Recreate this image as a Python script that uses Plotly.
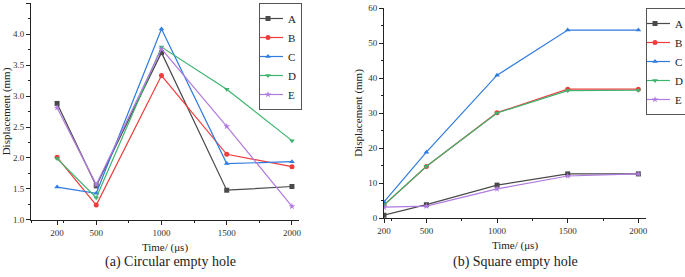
import plotly.graph_objects as go

times = [200, 500, 1000, 1500, 2000]
series_names = ["A", "B", "C", "D", "E"]

# (a) Circular empty hole
circ_A = [2.88, 1.55, 3.70, 1.48, 1.54]
circ_B = [2.01, 1.24, 3.33, 2.06, 1.86]
circ_C = [1.53, 1.43, 4.08, 1.91, 1.94]
circ_D = [1.99, 1.36, 3.79, 3.11, 2.28]
circ_E = [2.81, 1.57, 3.76, 2.51, 1.22]

# (b) Square empty hole
sq_A = [0.8, 3.8, 9.4, 12.6, 12.6]
sq_B = [3.7, 14.7, 30.1, 36.8, 36.8]
sq_C = [4.6, 18.8, 40.8, 53.7, 53.7]
sq_D = [3.7, 14.8, 30.0, 36.4, 36.5]
sq_E = [3.1, 3.4, 8.3, 12.0, 12.6]

colors = ["#4a4a4a", "#f03c3c", "#2f7be0", "#3cb36e", "#b07ae0"]
symbols = ["square", "circle", "triangle-up", "triangle-down", "star"]

FONT = "Liberation Serif, Times New Roman, serif"

fig = go.Figure()
circ = [circ_A, circ_B, circ_C, circ_D, circ_E]
sq = [sq_A, sq_B, sq_C, sq_D, sq_E]
for i, name in enumerate(series_names):
    fig.add_trace(go.Scatter(x=times, y=circ[i], name=name, mode="lines+markers",
                             line=dict(color=colors[i], width=1.2),
                             marker=dict(symbol=symbols[i], size=5, color=colors[i]),
                             xaxis="x", yaxis="y", legend="legend"))
for i, name in enumerate(series_names):
    fig.add_trace(go.Scatter(x=times, y=sq[i], name=name, mode="lines+markers",
                             line=dict(color=colors[i], width=1.2),
                             marker=dict(symbol=symbols[i], size=5, color=colors[i]),
                             xaxis="x2", yaxis="y2", legend="legend2"))

axis_common = dict(showline=True, linecolor="#222", linewidth=1, ticks="outside",
                   ticklen=4, tickcolor="#222", showgrid=False, zeroline=False,
                   automargin=False,
                   tickfont=dict(family=FONT, size=9, color="#333"))

legend_common = dict(xanchor="left", yanchor="top", bordercolor="#555", borderwidth=1,
                     bgcolor="white", font=dict(family=FONT, size=11, color="#222"),
                     tracegroupgap=0, itemwidth=30, indentation=-12)

fig.update_layout(
    width=685, height=277,
    margin=dict(l=0, r=0, t=0, b=0, autoexpand=False),
    paper_bgcolor="white", plot_bgcolor="white",
    font=dict(family=FONT, color="#222"),
    xaxis=dict(domain=[31/685, 299/685], range=[0, 2054], tickvals=times,
               minor=dict(ticks="outside", ticklen=2, tick0=0, dtick=250, tickcolor="#222"),
               anchor="y",
               title=dict(text="Time/ (μs)", font=dict(family=FONT, size=11), standoff=6),
               **axis_common),
    yaxis=dict(domain=[1-220/277, 1-3/277], range=[0.9995, 4.5005], dtick=0.5, tickformat=".1f",
               minor=dict(ticks="outside", ticklen=2, dtick=0.25, tickcolor="#222"),
               anchor="x",
               title=dict(text="Displacement (mm)", font=dict(family=FONT, size=11), standoff=3),
               **axis_common),
    xaxis2=dict(domain=[384/685, 646/685], range=[200, 2054], tickvals=times,
                minor=dict(ticks="outside", ticklen=2, tick0=0, dtick=250, tickcolor="#222"),
                anchor="y2",
                title=dict(text="Time/ (μs)", font=dict(family=FONT, size=11), standoff=6),
                **axis_common),
    yaxis2=dict(domain=[1-218/277, 1-8/277], range=[0, 60], dtick=10,
                minor=dict(ticks="outside", ticklen=2, dtick=5, tickcolor="#222"),
                anchor="x2",
                title=dict(text="Displacement (mm)", font=dict(family=FONT, size=11), standoff=3),
                **axis_common),
    legend=dict(x=259/685, y=1-3/277, **legend_common),
    legend2=dict(x=646/685, y=1-8/277, **legend_common),
    annotations=[
        dict(text="(a) Circular empty hole", x=170/685, y=1-262/277, xref="paper", yref="paper",
             xanchor="center", yanchor="middle",
             showarrow=False, font=dict(family=FONT, size=14, color="#222")),
        dict(text="(b) Square empty hole", x=515/685, y=1-262/277, xref="paper", yref="paper",
             xanchor="center", yanchor="middle",
             showarrow=False, font=dict(family=FONT, size=14, color="#222")),
    ],
)

fig.write_html("out.html", config={"displayModeBar": False},
               post_script="document.body.style.margin='0px';")
